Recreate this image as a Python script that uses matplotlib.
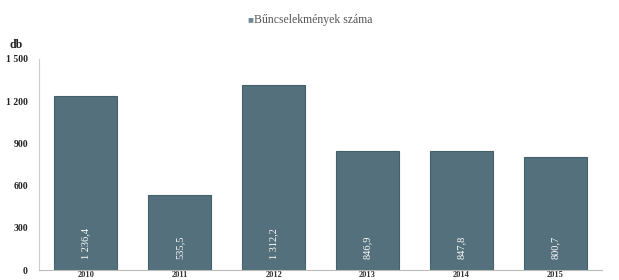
import numpy as np
import matplotlib.pyplot as plt

# adatok
evek = ['2010', '2011', '2012', '2013', '2014', '2015']
ertekek = [1236.4, 535.5, 1312.2, 846.9, 847.8, 800.7]
cimkek = ['1 236,4', '535,5', '1 312,2', '846,9', '847,8', '800,7']
y_ticks = [0, 300, 600, 900, 1200, 1500]
y_tick_labels = ['0', '300', '600', '900', '1 200', '1 500']

szin = '#53707c'
plt.rcParams['font.family'] = ['Liberation Serif', 'DejaVu Serif']

fig = plt.figure(figsize=(6.19, 2.8), dpi=100)
ax = fig.add_axes([39 / 619, 10 / 280, 563 / 619, 211 / 280])

x = np.arange(len(evek))
ax.bar(x, ertekek, width=0.67, color=szin, edgecolor='#46606b', linewidth=0.8)

# feliratok az oszlopok aljan
for xi, c in zip(x, cimkek):
    ax.text(xi, 80, c, rotation=90, ha='center', va='bottom',
            color='white', fontsize=7.5)

ax.set_xlim(-0.5, 5.5)
ax.set_ylim(0, 1500)
ax.set_yticks(y_ticks)
ax.set_yticklabels(y_tick_labels, fontsize=7, fontweight='bold', color='#222222')
ax.set_xticks(x)
ax.set_xticklabels(evek, fontsize=6, fontweight='bold', color='#333333')
ax.tick_params(axis='x', length=0, pad=1)
ax.tick_params(axis='y', length=0, pad=8)

for s in ['top', 'right']:
    ax.spines[s].set_visible(False)
ax.spines['left'].set_color('#cccccc')
ax.spines['bottom'].set_color('#bbbbbb')

fig.text(10 / 619, 1 - 45 / 280, 'db', fontsize=8.5, fontweight='bold',
         va='center', ha='left', color='#222222')

# jelmagyarazat
fig.text(253 / 619, 1 - 20 / 280, '\u25a0', fontsize=7, color='#6f8a95',
         ha='right', va='center')
fig.text(254 / 619, 1 - 20 / 280, 'Bűncselekmények száma', fontsize=8.5,
         color='#555555', ha='left', va='center')

fig.savefig('out.png', dpi=100)
